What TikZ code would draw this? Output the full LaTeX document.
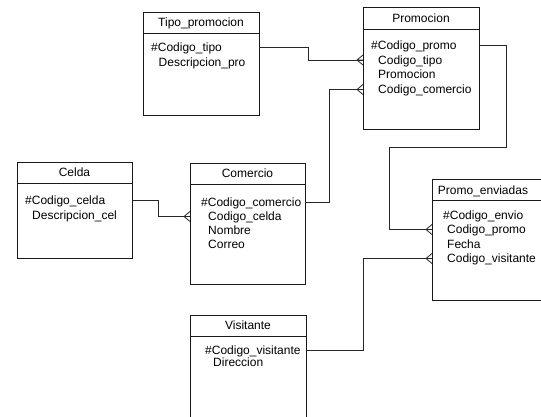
\documentclass[tikz,border=0pt]{standalone}
\usepackage{fontspec}
\setmainfont{Liberation Sans}
\begin{document}
\begin{tikzpicture}[x=1pt,y=-1pt,
  entity/.style={draw=black!90, line width=0.9pt, fill=white, anchor=north west,
    inner sep=0pt, outer sep=0pt},
  header/.style={draw=black!90, line width=0.9pt},
  title/.style={inner sep=0pt, text height=8.6pt, text depth=0pt,
    font=\fontsize{12}{14}\selectfont},
  attr/.style={anchor=west, inner sep=0pt, text height=8.6pt, text depth=0pt,
    font=\fontsize{12}{14}\selectfont},
  link/.style={draw=black!85, line width=0.8pt},
  crow/.pic={\draw[link] (-6,0) -- (0,-5) (-6,0) -- (0,5) (-6,0) -- (0,0);}
]
\useasboundingbox (0,0) rectangle (541,417);
\clip (0,0) rectangle (541,417);

% Tipo_promocion
\node[entity, minimum width=116pt, minimum height=103pt] (tipo) at (143,12) {};
\draw[header] ([yshift=-21pt]tipo.north west) -- ([yshift=-21pt]tipo.north east);
\node[title] (tipoT) at ([yshift=-10.5pt]tipo.north) {Tipo\_promocion};
\node[attr] (tipo1) at (151,47.5) {\#Codigo\_tipo};
\node[attr] (tipo2) at (158.5,62.5) {Descripcion\_pro};

% Promocion
\node[entity, minimum width=116pt, minimum height=122pt] (promo) at (363,7) {};
\draw[header] ([yshift=-22pt]promo.north west) -- ([yshift=-22pt]promo.north east);
\node[title] (promoT) at ([yshift=-11pt]promo.north) {Promocion};
\node[attr] (promo1) at (371,45) {\#Codigo\_promo};
\node[attr] (promo2) at (378,60) {Codigo\_tipo};
\node[attr] (promo3) at (378,74.5) {Promocion};
\node[attr] (promo4) at (378,89.5) {Codigo\_comercio};

% Celda
\node[entity, minimum width=115pt, minimum height=96pt] (celda) at (17,162) {};
\draw[header] ([yshift=-21pt]celda.north west) -- ([yshift=-21pt]celda.north east);
\node[title] (celdaT) at ([yshift=-10.5pt]celda.north) {Celda};
\node[attr] (celda1) at (25,200) {\#Codigo\_celda};
\node[attr] (celda2) at (32,215) {Descripcion\_cel};

% Comercio
\node[entity, minimum width=115pt, minimum height=121pt] (com) at (190,163) {};
\draw[header] ([yshift=-21pt]com.north west) -- ([yshift=-21pt]com.north east);
\node[title] (comT) at ([yshift=-10.5pt]com.north) {Comercio};
\node[attr] (com1) at (201,202) {\#Codigo\_comercio};
\node[attr] (com2) at (208,216.5) {Codigo\_celda};
\node[attr] (com3) at (208,230) {Nombre};
\node[attr] (com4) at (208,244) {Correo};

% Promo_enviadas
\node[entity, minimum width=116pt, minimum height=121pt] (penv) at (432,179) {};
\draw[header] ([yshift=-21pt]penv.north west) -- ([yshift=-21pt]penv.north east);
\node[title] (penvT) at (483,190) {Promo\_enviadas};
\node[attr] (penv1) at (443,215) {\#Codigo\_envio};
\node[attr] (penv2) at (447,229.5) {Codigo\_promo};
\node[attr] (penv3) at (447,244.5) {Fecha};
\node[attr] (penv4) at (447,258.5) {Codigo\_visitante};

% Visitante
\node[entity, minimum width=116pt, minimum height=122pt] (visit) at (190,315) {};
\draw[header] ([yshift=-21pt]visit.north west) -- ([yshift=-21pt]visit.north east);
\node[title] (visitT) at ([yshift=-10.5pt]visit.north) {Visitante};
\node[attr] (visit1) at (205,350) {\#Codigo\_visitante};
\node[attr] (visit2) at (213,362.5) {Direccion};

% bend points of the relationship lines
\coordinate (c1) at (308,0);
\coordinate (c2) at (329,0);
\coordinate (c3) at (158,0);
\coordinate (c4a) at (506,147);
\coordinate (c4b) at (389,0);
\coordinate (c5) at (363,0);

% relationships (crow's foot at the many side)
\draw[link] (tipo.east |- tipo1) -| (c1 |- promo2) -- (promo.west |- promo2);
\pic at (promo.west |- promo2) {crow};

\draw[link] (com.east |- com1) -| (c2 |- promo4) -- (promo.west |- promo4);
\pic at (promo.west |- promo4) {crow};

\draw[link] (celda.east |- celda1) -| (c3 |- com2) -- (com.west |- com2);
\pic at (com.west |- com2) {crow};

\draw[link] (promo.east |- promo1) -| (c4a) -| (c4b |- penv2) -- (penv.west |- penv2);
\pic at (penv.west |- penv2) {crow};

\draw[link] (visit.east |- visit1) -| (c5 |- penv4) -- (penv.west |- penv4);
\pic at (penv.west |- penv4) {crow};
\end{tikzpicture}
\end{document}
